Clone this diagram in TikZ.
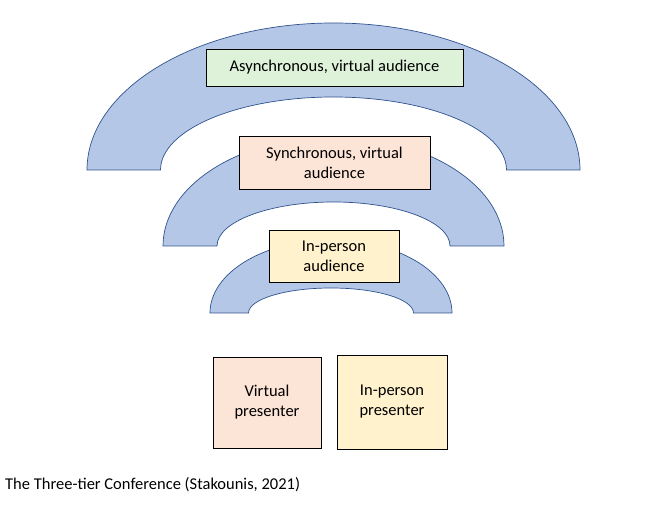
\documentclass[tikz,border=0pt]{standalone}
\usepackage{fontspec}
\setmainfont{Carlito}
\definecolor{ringblue}{RGB}{180,199,231}
\definecolor{ringedge}{RGB}{47,82,143}
\definecolor{tiergreen}{RGB}{222,242,217}
\definecolor{tierpeach}{RGB}{252,228,214}
\definecolor{tieryellow}{RGB}{255,242,204}
\tikzset{
  ring/.style={fill=ringblue,draw=ringedge,line width=0.7pt},
  tier box/.style={
    draw=black,
    line width=0.9pt,
    align=center,
    inner sep=0pt,
    font=\fontsize{16.5}{20}\selectfont
  }
}
% block arc: centre x, base y, outer radii, inner radii
\newcommand{\blockring}[6]{%
  \draw[ring] (#1-#3,#2)
    arc[start angle=180,end angle=0,x radius=#3,y radius=#4]
    -- (#1+#5,#2)
    arc[start angle=0,end angle=180,x radius=#5,y radius=#6]
    -- cycle;%
}
\begin{document}
\begin{tikzpicture}[x=1pt,y=1pt]
  \useasboundingbox (0,0) rectangle (666,526);

  \blockring{333.5}{356}{246.5}{147}{173}{73}
  \blockring{333.5}{280}{170.5}{109}{116.5}{44}
  \blockring{331}{213}{121}{73}{82.5}{25}

  \node[tier box,fill=tiergreen,minimum width=257,minimum height=37]
    (async) at (334.5,458.5) {Asynchronous, virtual audience};
  \node[tier box,fill=tierpeach,minimum width=191,minimum height=53]
    (sync) at (334.5,363.5) {Synchronous, virtual\\audience};
  \node[tier box,fill=tieryellow,minimum width=130,minimum height=52]
    (inperson) at (334,270) {In-person\\audience};

  \node[tier box,fill=tierpeach,minimum width=108,minimum height=91]
    (virtpres) at (267,123.5) {Virtual\\presenter};
  \node[tier box,fill=tieryellow,minimum width=110,minimum height=94]
    (inpres) at (392,124) {In-person\\presenter};

  \node[anchor=west,inner sep=0pt,font=\fontsize{16.5}{20}\selectfont]
    (caption) at (5,41) {The Three-tier Conference (Stakounis, 2021)};
\end{tikzpicture}
\end{document}
